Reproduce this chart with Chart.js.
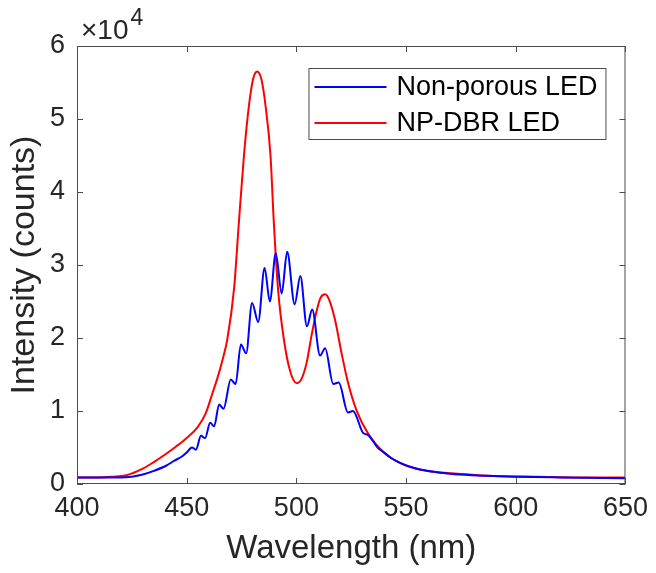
<!DOCTYPE html>
<html>
<head>
<meta charset="utf-8">
<title>LED emission spectra</title>
<script src="https://cdn.jsdelivr.net/npm/chart.js@4.4.1/dist/chart.umd.min.js"></script>
<style>
    html, body { margin: 0; padding: 0; background: #fff; }
    #wrap { width: 656px; height: 573px; }
</style>
</head>
<body>
<div id="wrap"><canvas id="spectrumChart"></canvas></div>
<script>
// tick values (wavelength in nm, intensity in counts)
const xTicks = [400, 450, 500, 550, 600, 650];
const yTicks = [0, 10000, 20000, 30000, 40000, 50000, 60000];

// Non-porous LED (blue)
const nonPorousWavelength = [400, 410, 418, 425, 430, 435, 440.6, 444.4, 448, 450, 452.4, 454.2, 456.5, 458.4,
    460.7, 462.5, 464.8, 466.8, 470.1, 472.3, 474.7, 477.1, 479.8, 482.6, 485.5, 487.9, 490.6, 493.3, 495.8,
    499.2, 501.8, 504.8, 507.2, 510.8, 513.1, 516.8, 519.3, 523.5, 525.8, 530.4, 532.7, 537, 540, 543, 548,
    555, 562, 570, 580, 590, 600, 620, 650];
const nonPorousCounts = [900, 900, 900, 1000, 1300, 1800, 2500, 3200, 3800, 4300, 5000, 4700, 6600, 6300,
    8400, 7900, 10900, 10300, 14300, 13700, 19100, 17900, 24800, 22200, 29600, 25000, 31600, 26100, 31800,
    24600, 28500, 21600, 23900, 17600, 18600, 13700, 13900, 9800, 10000, 7000, 6700, 5000, 4300, 3600, 2800,
    2100, 1700, 1400, 1200, 1100, 1000, 900, 800];

// NP-DBR LED (red)
const npDbrWavelength = [400, 410, 416, 422.5, 430, 435, 440, 445, 450, 455, 458.7, 461.7, 464, 466.5, 468.5,
    471.6, 473.8, 476.1, 478.4, 480.3, 482.1, 484, 485.9, 488.2, 489.7, 491.6, 494.2, 497.2, 500.2, 502.5,
    504.8, 507, 509.3, 511, 513.1, 515, 517.6, 520.6, 523.6, 527.4, 532.7, 540.3, 549.3, 561.4, 573.5,
    590, 610, 630, 650];
const npDbrCounts = [900, 900, 1000, 1200, 2100, 3000, 4000, 5100, 6300, 7800, 9700, 12400, 14500, 17200, 19800,
    26800, 35900, 45000, 51900, 55500, 56500, 55500, 51900, 45000, 35900, 26800, 20000, 15400, 13800, 14500,
    16800, 20500, 23800, 25500, 26000, 25200, 22500, 17900, 13800, 10100, 6900, 4200, 2600, 1700, 1400,
    1100, 1000, 900, 900];

const seriesLabels = ['Non-porous LED', 'NP-DBR LED'];
const seriesColors = ['#0000ff', '#ff0000'];

const fontFamily = '"Liberation Sans", Arial, sans-serif';
const axisColor = '#4d4d4d';
const textColor = '#262626';

const toPoints = (xs, ys) => xs.map((x, i) => ({ x: x, y: ys[i] }));

// MATLAB style box, inward ticks, exponent label and legend
const matlabFrame = {
    id: 'matlabFrame',
    afterDraw(chart) {
        const { ctx, chartArea: area, scales } = chart;
        const tickLen = 6;

        ctx.save();
        ctx.strokeStyle = axisColor;
        ctx.lineWidth = 1;
        ctx.strokeRect(area.left + 0.5, area.top + 0.5, area.width - 1, area.height - 1);

        ctx.beginPath();
        scales.x.ticks.forEach((tick) => {
            const px = Math.round(scales.x.getPixelForValue(tick.value)) + 0.5;
            ctx.moveTo(px, area.bottom);
            ctx.lineTo(px, area.bottom - tickLen);
            ctx.moveTo(px, area.top);
            ctx.lineTo(px, area.top + tickLen);
        });
        scales.y.ticks.forEach((tick) => {
            const py = Math.round(scales.y.getPixelForValue(tick.value)) + 0.5;
            ctx.moveTo(area.left, py);
            ctx.lineTo(area.left + tickLen, py);
            ctx.moveTo(area.right, py);
            ctx.lineTo(area.right - tickLen, py);
        });
        ctx.stroke();

        // x10^4 above the y axis
        ctx.fillStyle = textColor;
        ctx.textBaseline = 'alphabetic';
        ctx.textAlign = 'left';
        ctx.font = '28px ' + fontFamily;
        const base = '\u00d710';
        ctx.fillText(base, area.left + 4, area.top - 7);
        const baseWidth = ctx.measureText(base).width;
        ctx.font = '23px ' + fontFamily;
        ctx.fillText('4', area.left + 6 + baseWidth, area.top - 21);

        // legend box
        const boxRight = area.right - 20;
        const boxLeft = boxRight - 297;
        const boxTop = area.top + 22;
        const rowGap = 36;
        ctx.fillStyle = '#fff';
        ctx.fillRect(boxLeft, boxTop, boxRight - boxLeft, 71);
        ctx.strokeStyle = axisColor;
        ctx.strokeRect(boxLeft + 0.5, boxTop + 0.5, boxRight - boxLeft, 71);

        ctx.font = '27px ' + fontFamily;
        ctx.textBaseline = 'middle';
        chart.data.datasets.forEach((ds, i) => {
            const rowY = boxTop + 19 + i * rowGap;
            ctx.strokeStyle = ds.borderColor;
            ctx.lineWidth = 2;
            ctx.beginPath();
            ctx.moveTo(boxLeft + 6, rowY);
            ctx.lineTo(boxLeft + 78, rowY);
            ctx.stroke();
            ctx.fillStyle = '#000';
            ctx.fillText(ds.label, boxLeft + 88, rowY + 1);
        });
        ctx.restore();
    },
};

const spectrumCanvas = document.getElementById('spectrumChart');
new Chart(spectrumCanvas, {
    type: 'line',
    data: {
        datasets: [
            {
                label: seriesLabels[0],
                data: toPoints(nonPorousWavelength, nonPorousCounts),
                borderColor: seriesColors[0],
                borderWidth: 2,
                pointRadius: 0,
                cubicInterpolationMode: 'monotone',
            },
            {
                label: seriesLabels[1],
                data: toPoints(npDbrWavelength, npDbrCounts),
                borderColor: seriesColors[1],
                borderWidth: 2,
                pointRadius: 0,
                cubicInterpolationMode: 'monotone',
            },
        ],
    },
    options: {
        responsive: true,
        maintainAspectRatio: false,
        animation: false,
        layout: {
            padding: { top: 46, right: 27, left: 0, bottom: 0 },
        },
        plugins: {
            legend: { display: false },
            tooltip: { enabled: false },
        },
        scales: {
            x: {
                type: 'linear',
                min: xTicks[0],
                max: xTicks[xTicks.length - 1],
                afterBuildTicks: (scale) => {
                    scale.ticks = xTicks.map((v) => ({ value: v }));
                },
                afterFit: (scale) => {
                    scale.height = 89;
                },
                grid: { display: false, drawTicks: false },
                border: { display: false },
                ticks: {
                    padding: 8,
                    color: textColor,
                    font: { family: fontFamily, size: 27 },
                    maxRotation: 0,
                },
                title: {
                    display: true,
                    text: 'Wavelength (nm)',
                    color: textColor,
                    font: { family: fontFamily, size: 33 },
                    padding: { top: 0, bottom: 4 },
                },
            },
            y: {
                min: yTicks[0],
                max: yTicks[yTicks.length - 1],
                afterBuildTicks: (scale) => {
                    scale.ticks = yTicks.map((v) => ({ value: v }));
                },
                afterFit: (scale) => {
                    scale.width = 77;
                },
                grid: { display: false, drawTicks: false },
                border: { display: false },
                ticks: {
                    padding: 12,
                    color: textColor,
                    font: { family: fontFamily, size: 27 },
                    callback: (value) => String(value / 10000),
                },
                title: {
                    display: true,
                    text: 'Intensity (counts)',
                    color: textColor,
                    font: { family: fontFamily, size: 34 },
                    padding: { top: 4, bottom: 0 },
                },
            },
        },
    },
    plugins: [matlabFrame],
});
</script>
</body>
</html>
